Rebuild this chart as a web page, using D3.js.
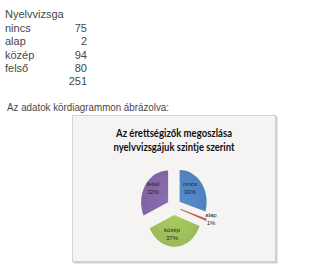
<!DOCTYPE html>
<html><head><meta charset="utf-8">
<script src="https://cdn.jsdelivr.net/npm/d3@7"></script>
<style>body{margin:0;background:#fff;}svg{display:block;}</style>
</head><body>
<svg id="c" width="320" height="269"></svg>
<script>
const tableHeader = "Nyelvvizsga";
const categories = ["nincs", "alap", "közép", "felső"];
const values = [75, 2, 94, 80];
const total = 251;
const percentLabels = ["30%", "1%", "37%", "32%"];
const colors = ["#4f81bd", "#c0504d", "#9bbb59", "#8064a2"];
const caption = "Az adatok kördiagrammon ábrázolva:";
const titleLines = ["Az érettségizők megoszlása", "nyelvvizsgájuk szintje szerint"];

const svg = d3.select("#c");
const txtFont = "'Liberation Sans', Arial, sans-serif";
const txtCol = "#474747";

// table
svg.append("text").attr("x", 5).attr("y", 18).text(tableHeader)
  .attr("font-family", txtFont).attr("font-size", 11).attr("fill", txtCol);
const rowY = d3.scaleLinear().domain([0, 1]).range([32, 45.3]);
categories.forEach((c, i) => {
  svg.append("text").attr("x", 5).attr("y", rowY(i)).text(c)
    .attr("font-family", txtFont).attr("font-size", 11).attr("fill", txtCol);
  svg.append("text").attr("x", 87).attr("y", rowY(i)).attr("text-anchor", "end").text(values[i])
    .attr("font-family", txtFont).attr("font-size", 11).attr("fill", txtCol);
});
svg.append("text").attr("x", 87).attr("y", rowY(4)).attr("text-anchor", "end").text(total)
  .attr("font-family", txtFont).attr("font-size", 11).attr("fill", txtCol);

svg.append("text").attr("x", 7).attr("y", 111).text(caption)
  .attr("font-family", txtFont).attr("font-size", 11).attr("fill", txtCol)
  .attr("textLength", 162).attr("lengthAdjust", "spacingAndGlyphs");

// chart box with shadow
svg.append("rect").attr("x", 73.5).attr("y", 116.5).attr("width", 204).attr("height", 147)
  .attr("fill", "#cfcfcf");
svg.append("rect").attr("x", 72.5).attr("y", 115.5).attr("width", 203).attr("height", 146)
  .attr("fill", "#f5f4f3").attr("stroke", "#d2d2d2");

const tf = "Lato, 'Open Sans', sans-serif";
svg.append("text").attr("x", 174).attr("y", 136.5).attr("text-anchor", "middle").text(titleLines[0])
  .attr("font-family", tf).attr("font-weight", "bold").attr("font-size", 11.5).attr("fill", "#111")
  .attr("textLength", 116).attr("lengthAdjust", "spacingAndGlyphs");
svg.append("text").attr("x", 174).attr("y", 151).attr("text-anchor", "middle").text(titleLines[1])
  .attr("font-family", tf).attr("font-weight", "bold").attr("font-size", 11.5).attr("fill", "#111")
  .attr("textLength", 121).attr("lengthAdjust", "spacingAndGlyphs");

// pie
const r = 27, off = 7, sy = 1.18;
const g = svg.append("g").attr("transform", `translate(174,206.7) scale(1,${sy})`);
const pie = d3.pie().sort(null).value(d => d)(values);
const arc = d3.arc().innerRadius(0).outerRadius(r);
const defs = svg.append("defs");
colors.forEach((col, i) => {
  const gr = defs.append("radialGradient").attr("id", "g" + i)
    .attr("gradientUnits", "userSpaceOnUse").attr("cx", 0).attr("cy", 0).attr("r", r);
  gr.append("stop").attr("offset", "0%").attr("stop-color", d3.color(col).brighter(0.25));
  gr.append("stop").attr("offset", "100%").attr("stop-color", col);
});
pie.forEach((p, i) => {
  const mid = (p.startAngle + p.endAngle) / 2;
  const dx = Math.sin(mid) * off, dy = -Math.cos(mid) * off;
  g.append("path").attr("d", arc(p)).attr("transform", `translate(${dx},${dy})`)
    .attr("fill", `url(#g${i})`).attr("stroke", i === 1 ? colors[1] : "none").attr("stroke-width", 0.6);
});

// labels
const lf = "'Liberation Sans', Arial, sans-serif";
const labelPos = [[190, 186], [211, 216.5], [172, 232], [153, 186]];
categories.forEach((c, i) => {
  const [x, y] = labelPos[i];
  svg.append("text").attr("x", x).attr("y", y).attr("text-anchor", "middle").text(c)
    .attr("font-family", lf).attr("font-size", 6).attr("fill", "#222");
  svg.append("text").attr("x", x).attr("y", y + 8).attr("text-anchor", "middle").text(percentLabels[i])
    .attr("font-family", lf).attr("font-size", 6).attr("fill", "#222");
});
</script>
</body></html>
